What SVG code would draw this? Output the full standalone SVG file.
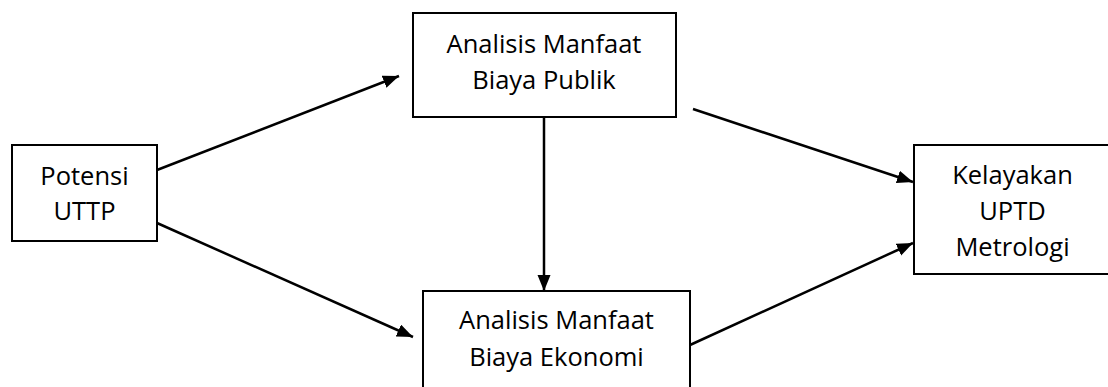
<svg xmlns="http://www.w3.org/2000/svg" width="1108" height="387" viewBox="0 0 1108 387">
<style>
.box{fill:#fff;stroke:#000;stroke-width:2}
.t{font-family:"Open Sans","Liberation Sans",sans-serif;font-size:25.5px;fill:#000;text-anchor:middle}
.c{stroke:#000;stroke-width:2.5;fill:none}
</style>
<defs>
<marker id="ah" markerUnits="userSpaceOnUse" markerWidth="18" markerHeight="14" refX="16" refY="6.5" orient="auto">
<path d="M0,0 L16,6.5 L0,13 z" fill="#000"/>
</marker>
</defs>
<rect width="1108" height="387" fill="#fff"/>
<g id="connectors">
<line class="c" x1="157" y1="170" x2="399" y2="76" marker-end="url(#ah)"/>
<line class="c" x1="157" y1="223" x2="413" y2="337" marker-end="url(#ah)"/>
<line class="c" x1="544" y1="117" x2="544" y2="291" marker-end="url(#ah)"/>
<line class="c" x1="693" y1="109" x2="913" y2="182" marker-end="url(#ah)"/>
<line class="c" x1="690" y1="345" x2="913" y2="243" marker-end="url(#ah)"/>
</g>
<g id="potensi">
<rect class="box" x="12" y="145" width="145" height="96"/>
<text class="t" x="84.5" y="185">Potensi</text>
<text class="t" x="84.5" y="220">UTTP</text>
</g>
<g id="publik">
<rect class="box" x="413" y="13" width="263" height="104"/>
<text class="t" x="544" y="53">Analisis Manfaat</text>
<text class="t" x="544" y="89">Biaya Publik</text>
</g>
<g id="ekonomi">
<rect class="box" x="423" y="291" width="267" height="104"/>
<text class="t" x="556.5" y="329">Analisis Manfaat</text>
<text class="t" x="556.5" y="366">Biaya Ekonomi</text>
</g>
<g id="kelayakan">
<rect class="box" x="914" y="145" width="197" height="129"/>
<text class="t" x="1012.5" y="184">Kelayakan</text>
<text class="t" x="1012.5" y="220">UPTD</text>
<text class="t" x="1012.5" y="256">Metrologi</text>
</g>
</svg>
